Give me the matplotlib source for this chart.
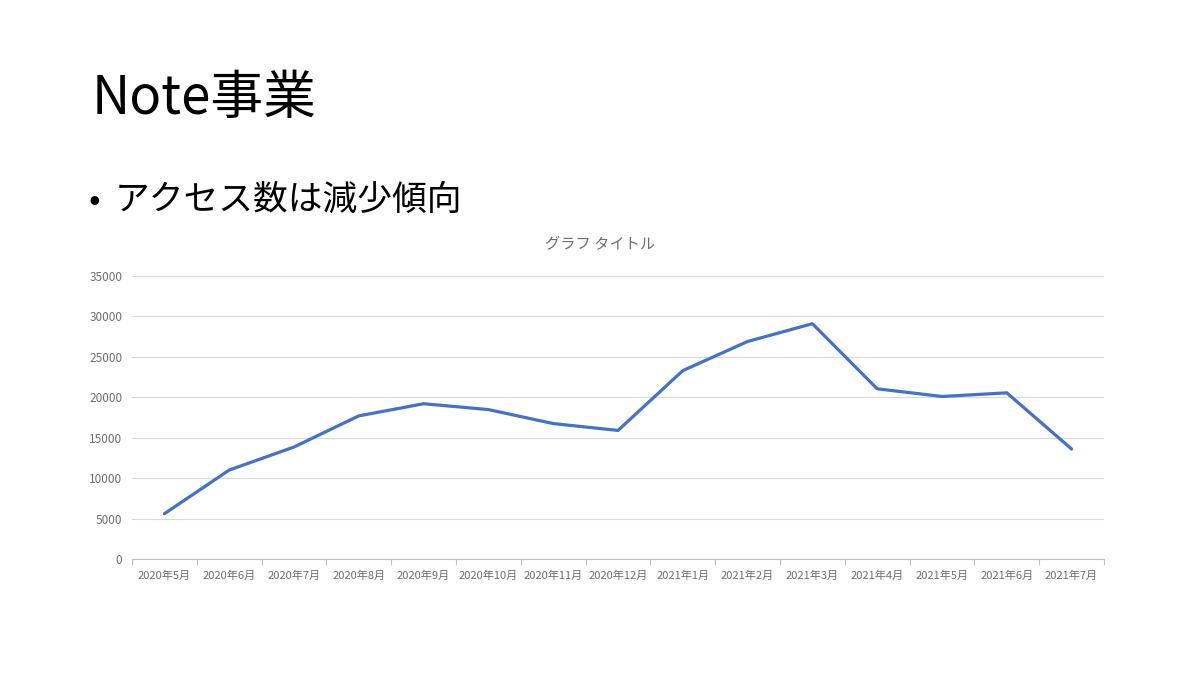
import matplotlib
matplotlib.use("Agg")
import matplotlib.pyplot as plt
from matplotlib.ticker import FixedLocator, NullFormatter

plt.rcParams['font.family'] = ['Noto Sans CJK JP', 'DejaVu Sans']

months = ["2020年5月", "2020年6月", "2020年7月", "2020年8月", "2020年9月",
          "2020年10月", "2020年11月", "2020年12月", "2021年1月", "2021年2月",
          "2021年3月", "2021年4月", "2021年5月", "2021年6月", "2021年7月"]
access = [5600, 11000, 13850, 17700, 19200, 18480, 16750, 15900,
          23300, 26900, 29100, 21050, 20100, 20550, 13600]
yticks = [0, 5000, 10000, 15000, 20000, 25000, 30000, 35000]

fig = plt.figure(figsize=(12, 6.75), dpi=100)
fig.patch.set_facecolor("white")

fig.text(92/1200, 1-99/675, "Note事業", fontsize=38, va="center", ha="left", color="black")
fig.text(88/1200, 1-201/675, "•", fontsize=25, va="center", ha="left", color="black")
fig.text(115/1200, 1-200/675, "アクセス数は減少傾向", fontsize=25, va="center", ha="left", color="black")

ax = fig.add_axes([132/1200, 1-559/675, (1104-132)/1200, (559-276)/675])
x = list(range(len(months)))
ax.plot(x, access, color="#4472C4", linewidth=2.3, solid_joinstyle="round", solid_capstyle="round")

ax.set_xlim(-0.5, len(months)-0.5)
ax.set_ylim(0, 35000)
ax.set_yticks(yticks)
ax.set_yticklabels([str(v) for v in yticks])
ax.set_xticks(x)
ax.set_xticklabels(months)
ax.xaxis.set_minor_locator(FixedLocator([i-0.5 for i in range(len(months)+1)]))
ax.xaxis.set_minor_formatter(NullFormatter())
ax.tick_params(axis="x", which="major", length=0, pad=8, labelsize=8, labelcolor="#6f6f6f")
ax.tick_params(axis="x", which="minor", length=4, width=0.8, color="#bfbfbf")
ax.tick_params(axis="y", which="major", length=0, pad=7, labelsize=8.5, labelcolor="#6f6f6f")

ax.grid(axis="y", color="#d9d9d9", linewidth=0.8)
ax.set_axisbelow(True)
for s in ["top", "right", "left"]:
    ax.spines[s].set_visible(False)
ax.spines["bottom"].set_color("#bfbfbf")
ax.spines["bottom"].set_linewidth(0.8)

fig.text(600/1200, 1-245/675, "グラフ タイトル", fontsize=11, ha="center", va="center", color="#6f6f6f")

fig.savefig("out.png", dpi=100, facecolor="white")
